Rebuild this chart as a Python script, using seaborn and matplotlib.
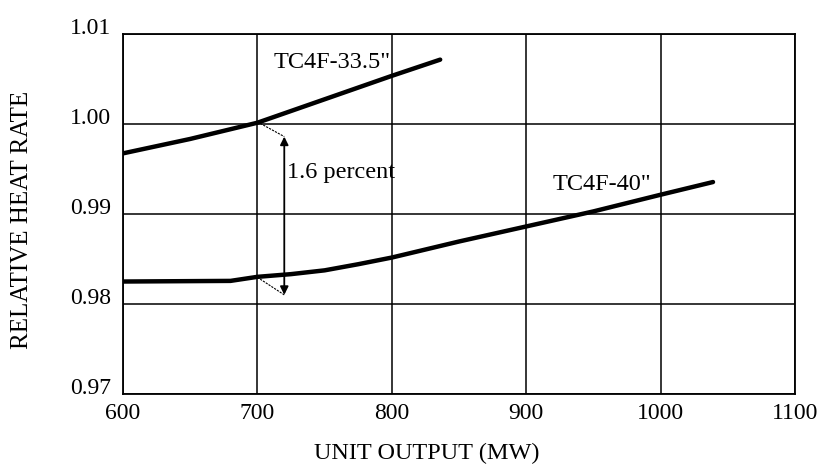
import matplotlib
matplotlib.use("Agg")
import matplotlib.pyplot as plt
import matplotlib.transforms as mtransforms
import seaborn as sns
import pandas as pd

# ---- data ----
series_names = ['TC4F-33.5"', 'TC4F-40"']
x_335 = [600, 650, 700, 750, 800, 836]
y_335 = [0.9967, 0.9983, 1.0001, 1.0027, 1.0053, 1.0071]
x_40 = [600, 680, 700, 725, 750, 775, 800, 850, 900, 950, 1000, 1039]
y_40 = [0.98248, 0.98255, 0.98300, 0.98330, 0.98372, 0.98440, 0.98514, 0.98692,
        0.98859, 0.99026, 0.99211, 0.99352]

x_ticks = [600, 700, 800, 900, 1000, 1100]
y_ticks = [0.97, 0.98, 0.99, 1.00, 1.01]
y_tick_labels = ["0.97", "0.98", "0.99", "1.00", "1.01"]

# annotation anchors (data coords)
arrow_x = 720
arrow_top = 0.99856
arrow_bottom = 0.98100
leader_x0 = 700
leader_top_y0 = 1.0002
leader_bottom_y0 = 0.98295
note_text = "1.6 percent"
note_pos = (722, 0.99455)
label_335_pos = (711.7, 1.0068)
label_40_pos = (919.5, 0.99322)

df = pd.DataFrame({
    "output": x_335 + x_40,
    "rate": y_335 + y_40,
    "series": [series_names[0]] * len(x_335) + [series_names[1]] * len(x_40),
})

sns.set_theme(style="white")
plt.rcParams["font.family"] = ["Liberation Serif", "DejaVu Serif"]

fig = plt.figure(figsize=(8.18, 4.66), dpi=100)
ax = fig.add_axes([123 / 818, 1 - 394 / 466, (795 - 123) / 818, (394 - 33.5) / 466])

sns.lineplot(data=df, x="output", y="rate", hue="series",
             palette=["black", "black"], linewidth=3.2, legend=False,
             ax=ax, sort=True)

ax.set_xlim(600, 1100)
ax.set_ylim(0.97, 1.01)
ax.set_xticks(x_ticks)
ax.set_xticklabels([str(v) for v in x_ticks])
ax.set_yticks(y_ticks)
ax.set_yticklabels(y_tick_labels)
ax.grid(True, color="black", linewidth=1.1)
ax.set_axisbelow(True)
for s in ax.spines.values():
    s.set_color("black")
    s.set_linewidth(1.3)
ax.tick_params(axis="both", length=0, labelsize=17, colors="black")
ax.tick_params(axis="y", pad=8.5)
ax.tick_params(axis="x", pad=6.5)

offset = mtransforms.ScaledTranslation(0, 8 / 100, fig.dpi_scale_trans)
for lbl in ax.get_yticklabels():
    lbl.set_transform(lbl.get_transform() + offset)

ax.set_xlabel("UNIT OUTPUT (MW)", fontsize=17.5, color="black")
ax.set_ylabel("RELATIVE HEAT RATE", fontsize=18, color="black")
ax.xaxis.set_label_coords((427 - 123) / (795 - 123), -(453 - 394) / (394 - 33.5), transform=ax.transAxes)
ax.xaxis.label.set_va("center")
ax.yaxis.set_label_coords(-(123 - 22) / (795 - 123), (394 - 220) / (394 - 33.5), transform=ax.transAxes)
ax.yaxis.label.set_va("center")

# double arrow and leader lines
ax.annotate("", xy=(arrow_x, arrow_top), xytext=(arrow_x, arrow_bottom),
            arrowprops=dict(arrowstyle="<|-|>", color="black", lw=1.3,
                            mutation_scale=12, shrinkA=0, shrinkB=0))
ax.plot([leader_x0, arrow_x], [leader_top_y0, arrow_top], color="black", lw=0.8, ls=(0, (2, 1)))
ax.plot([leader_x0, arrow_x], [leader_bottom_y0, arrow_bottom], color="black", lw=0.8, ls=(0, (2, 1)))

ax.text(note_pos[0], note_pos[1], note_text, fontsize=17.5, va="center", ha="left", color="black")
ax.text(label_335_pos[0], label_335_pos[1], series_names[0], fontsize=17.5, va="center", ha="left", color="black")
ax.text(label_40_pos[0], label_40_pos[1], series_names[1], fontsize=17.5, va="center", ha="left", color="black")

fig.savefig("out.png", dpi=100, facecolor="white")
